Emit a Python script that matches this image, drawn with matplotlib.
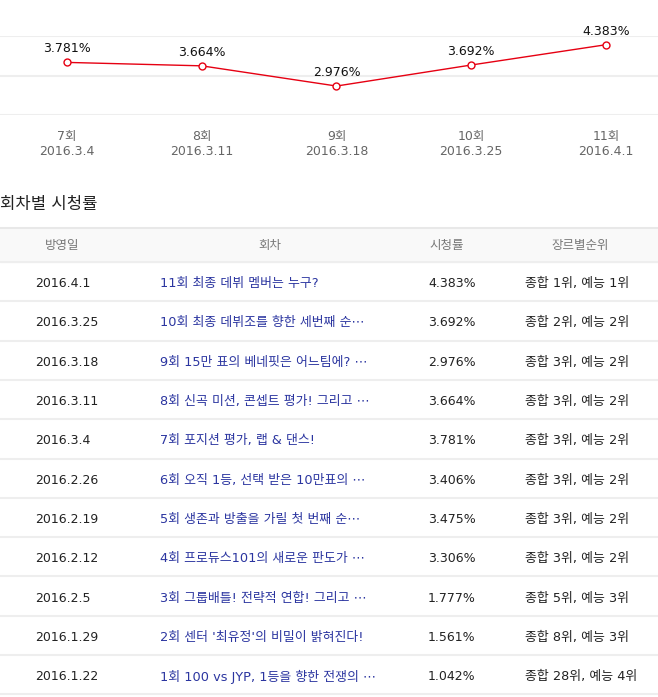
import matplotlib.pyplot as plt

# latin/digits from DejaVu, hangul falls back to Noto CJK KR
plt.rcParams['font.family'] = ['DejaVu Sans', 'Noto Sans CJK KR']

# chart data
episodes = ['7회', '8회', '9회', '10회', '11회']
air_dates = ['2016.3.4', '2016.3.11', '2016.3.18', '2016.3.25', '2016.4.1']
ratings = [3.781, 3.664, 2.976, 3.692, 4.383]

# table data
table_title = '회차별 시청률'
headers = ['방영일', '회차', '시청률', '장르별순위']
row_dates = ['2016.4.1', '2016.3.25', '2016.3.18', '2016.3.11', '2016.3.4',
             '2016.2.26', '2016.2.19', '2016.2.12', '2016.2.5', '2016.1.29', '2016.1.22']
row_titles = ['11회 최종 데뷔 멤버는 누구?',
              '10회 최종 데뷔조를 향한 세번째 순⋯',
              '9회 15만 표의 베네핏은 어느팀에? ⋯',
              '8회 신곡 미션, 콘셉트 평가! 그리고 ⋯',
              '7회 포지션 평가, 랩 & 댄스!',
              '6회 오직 1등, 선택 받은 10만표의 ⋯',
              '5회 생존과 방출을 가릴 첫 번째 순⋯',
              '4회 프로듀스101의 새로운 판도가 ⋯',
              '3회 그룹배틀! 전략적 연합! 그리고 ⋯',
              "2회 센터 '최유정'의 비밀이 밝혀진다!",
              '1회 100 vs JYP, 1등을 향한 전쟁의 ⋯']
row_ratings = [4.383, 3.692, 2.976, 3.664, 3.781, 3.406, 3.475, 3.306, 1.777, 1.561, 1.042]
row_ranks = ['종합 1위, 예능 1위', '종합 2위, 예능 2위', '종합 3위, 예능 2위', '종합 3위, 예능 2위',
             '종합 3위, 예능 2위', '종합 3위, 예능 2위', '종합 3위, 예능 2위', '종합 3위, 예능 2위',
             '종합 5위, 예능 3위', '종합 8위, 예능 3위', '종합 28위, 예능 4위']

W, H = 658, 697
fig = plt.figure(figsize=(W / 100, H / 100), dpi=100)

# page axes in pixel coordinates for the table part
page = fig.add_axes([0, 0, 1, 1])
page.set_xlim(0, W)
page.set_ylim(H, 0)
page.axis('off')

# line chart
ax = fig.add_axes([0, 1 - 115 / H, 1, 79 / H])
ax.patch.set_alpha(0)
xs = list(range(len(ratings)))
ax.set_xlim(-0.497, 4.386)
ax.set_ylim(1.99, 4.68)
for y in (1.99, 3.335, 4.68):
    ax.axhline(y, color='#eeeeee', linewidth=1.5, zorder=0)
ax.plot(xs, ratings, color='#e60012', linewidth=1.0, marker='o', markersize=5,
        markerfacecolor='white', markeredgecolor='#e60012', markeredgewidth=1.0, clip_on=False)
for x, v in zip(xs, ratings):
    ax.annotate(f'{v:.3f}%', (x, v), xytext=(0, 5), textcoords='offset points',
                ha='center', va='bottom', fontsize=9, color='#111111')
ax.set_xticks(xs)
ax.set_xticklabels([f'{e}\n{d}' for e, d in zip(episodes, air_dates)],
                   fontsize=9, color='#666666', linespacing=1.25)
ax.tick_params(axis='x', length=0, pad=10.5)
ax.set_yticks([])
for s in ax.spines.values():
    s.set_visible(False)

# table
page.text(0, 204, table_title, fontsize=12, color='#222222', va='center', ha='left')
page.fill_between([0, W], 228, 262, color='#f9f9f9', zorder=0)
page.plot([0, W], [228, 228], color='#e8e8e8', linewidth=1.5)
page.plot([0, W], [262, 262], color='#eeeeee', linewidth=1.5)
header_x = [62, 270, 447, 580]
for hx, h in zip(header_x, headers):
    page.text(hx, 246, h, fontsize=9, color='#777777', ha='center', va='center')

row_top = 262
row_h = 39.3
for i in range(len(row_dates)):
    yc = row_top + row_h * (i + 0.5) + 2
    page.text(35, yc, row_dates[i], fontsize=9, color='#222222', va='center')
    page.text(160, yc, row_titles[i], fontsize=9.3, color='#2b35a0', va='center')
    page.text(428, yc, f'{row_ratings[i]:.3f}%', fontsize=9, color='#222222', va='center')
    page.text(525, yc, row_ranks[i], fontsize=9.3, color='#222222', va='center')
    yl = row_top + row_h * (i + 1)
    page.plot([0, W], [yl, yl], color='#eeeeee', linewidth=1.5)

fig.savefig('out.png', dpi=100, facecolor='white')
